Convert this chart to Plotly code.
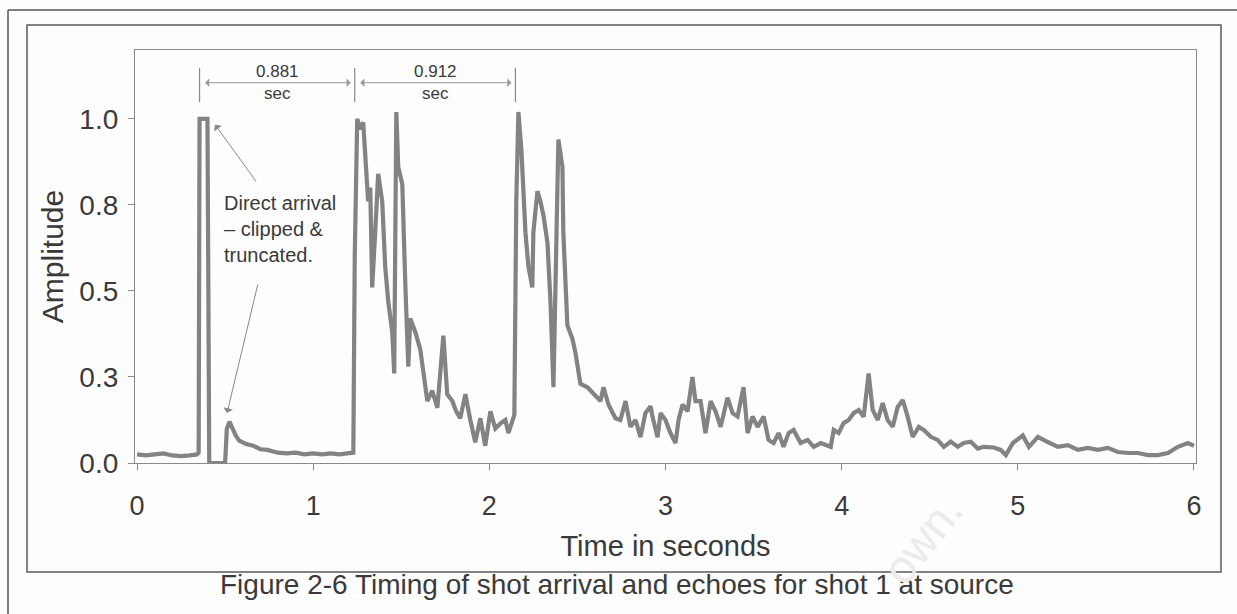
import plotly.graph_objects as go

# ---------------- data ----------------
time_s = [
    0.00, 0.05, 0.10, 0.15, 0.20, 0.25, 0.30, 0.34, 0.350, 0.355, 0.400, 0.410,
    0.500, 0.510, 0.525, 0.540, 0.560, 0.580, 0.620, 0.660, 0.700, 0.740, 0.800,
    0.850, 0.900, 0.950, 1.000, 1.050, 1.100, 1.150, 1.200, 1.228,
    1.236, 1.245, 1.250, 1.267, 1.284, 1.295, 1.312, 1.324, 1.335, 1.352, 1.369,
    1.392, 1.409, 1.426, 1.449, 1.460, 1.472, 1.483, 1.506, 1.523, 1.540, 1.551,
    1.580, 1.608, 1.648, 1.676, 1.705, 1.739, 1.761, 1.790, 1.812, 1.835, 1.864,
    1.892, 1.920, 1.949, 1.977, 2.006, 2.034, 2.063, 2.091, 2.108, 2.131, 2.142,
    2.153, 2.165, 2.182, 2.193, 2.205, 2.222, 2.244, 2.250, 2.273, 2.290, 2.307,
    2.330, 2.347, 2.364, 2.381, 2.392, 2.415, 2.420, 2.443, 2.472, 2.489, 2.517,
    2.557, 2.591, 2.631, 2.648, 2.676, 2.716, 2.744, 2.773, 2.801, 2.830, 2.858,
    2.886, 2.915, 2.926, 2.955, 2.972, 3.000, 3.028, 3.057, 3.074, 3.097, 3.125,
    3.153, 3.170, 3.199, 3.227, 3.256, 3.284, 3.313, 3.352, 3.381, 3.409, 3.443,
    3.466, 3.494, 3.523, 3.557, 3.585, 3.614, 3.642, 3.670, 3.699, 3.727, 3.767,
    3.807, 3.841, 3.881, 3.938, 3.955, 3.983, 4.011, 4.040, 4.068, 4.097, 4.125,
    4.153, 4.176, 4.205, 4.233, 4.261, 4.290, 4.318, 4.347, 4.375, 4.403, 4.438,
    4.466, 4.506, 4.545, 4.580, 4.619, 4.659, 4.693, 4.733, 4.773, 4.807, 4.864,
    4.903, 4.932, 4.972, 5.028, 5.063, 5.114, 5.170, 5.227, 5.284, 5.341, 5.398,
    5.455, 5.511, 5.568, 5.625, 5.682, 5.739, 5.795, 5.852, 5.909, 5.966, 6.000,
]
amplitude = [
    0.025, 0.022, 0.025, 0.028, 0.022, 0.020, 0.022, 0.025, 0.030, 1.000, 1.000, 0.000,
    0.000, 0.100, 0.120, 0.100, 0.080, 0.065, 0.055, 0.050, 0.040, 0.038, 0.030,
    0.028, 0.030, 0.025, 0.028, 0.025, 0.028, 0.025, 0.028, 0.030,
    0.600, 0.950, 1.000, 0.970, 0.990, 0.900, 0.760, 0.800, 0.510, 0.670, 0.840,
    0.760, 0.570, 0.470, 0.380, 0.260, 1.020, 0.860, 0.810, 0.520, 0.280, 0.420,
    0.380, 0.330, 0.180, 0.210, 0.160, 0.370, 0.200, 0.180, 0.150, 0.130, 0.200,
    0.125, 0.060, 0.130, 0.050, 0.150, 0.100, 0.115, 0.125, 0.087, 0.125, 0.140,
    0.760, 1.020, 0.910, 0.760, 0.670, 0.570, 0.510, 0.670, 0.790, 0.760, 0.720,
    0.640, 0.470, 0.220, 0.600, 0.940, 0.860, 0.670, 0.400, 0.360, 0.320, 0.230,
    0.220, 0.200, 0.180, 0.220, 0.170, 0.130, 0.125, 0.180, 0.105, 0.125, 0.075,
    0.145, 0.165, 0.135, 0.075, 0.145, 0.125, 0.087, 0.058, 0.125, 0.170, 0.150,
    0.250, 0.180, 0.180, 0.087, 0.180, 0.150, 0.105, 0.190, 0.145, 0.135, 0.220,
    0.087, 0.135, 0.105, 0.135, 0.067, 0.058, 0.087, 0.047, 0.087, 0.096, 0.058,
    0.067, 0.047, 0.058, 0.047, 0.096, 0.087, 0.116, 0.125, 0.145, 0.154, 0.134,
    0.260, 0.154, 0.125, 0.174, 0.125, 0.105, 0.163, 0.183, 0.134, 0.076, 0.105,
    0.096, 0.076, 0.067, 0.047, 0.062, 0.047, 0.058, 0.062, 0.042, 0.047, 0.045,
    0.038, 0.023, 0.058, 0.080, 0.047, 0.076, 0.061, 0.047, 0.052, 0.038, 0.044,
    0.038, 0.044, 0.032, 0.029, 0.029, 0.023, 0.023, 0.029, 0.047, 0.058, 0.050,
]

x_ticks = [0, 1, 2, 3, 4, 5, 6]
y_ticks = [0.0, 0.25, 0.5, 0.75, 1.0]
y_tick_labels = ["0.0", "0.3", "0.5", "0.8", "1.0"]

arrival_marks = [0.355, 1.236, 2.148]        # shot arrival and echo onsets (s)
interval_labels = ["0.881<br>sec", "0.912<br>sec"]

# ---------------- figure ----------------
FONT = "Liberation Sans, Arial, sans-serif"
TXT = "#3a3a3a"
AX = "#8a8a8a"

fig = go.Figure()
fig.add_trace(go.Scatter(
    x=time_s, y=amplitude, mode="lines",
    line=dict(color="#838383", width=4.2),
    hoverinfo="skip", showlegend=False,
))

L, R, T, B = 135, 1196, 50, 463
W, H = 1237, 614
def px(xp):
    return (xp - L) / (R - L)
def py(yp):
    return (B - yp) / (B - T)

shapes = []
# outer scanned frame (left + top) and inner figure box
shapes.append(dict(type="line", xref="paper", yref="paper", x0=px(8), x1=px(8),
                   y0=py(10), y1=py(640), line=dict(color="#555", width=1.5)))
shapes.append(dict(type="line", xref="paper", yref="paper", x0=px(8), x1=px(1260),
                   y0=py(10), y1=py(10), line=dict(color="#555", width=1.5)))
shapes.append(dict(type="rect", xref="paper", yref="paper", x0=px(27), x1=px(1221),
                   y0=py(572), y1=py(25), line=dict(color="#5a5a5a", width=1.5)))

# dimension markers
y_dim_top, y_dim_bot, y_dim = 1.148, 1.049, 1.105
for t in arrival_marks:
    shapes.append(dict(type="line", xref="x", yref="y", x0=t, x1=t,
                       y0=y_dim_bot, y1=y_dim_top, line=dict(color="#888", width=1.2)))

annotations = []
for i in range(len(arrival_marks) - 1):
    a, b = arrival_marks[i], arrival_marks[i + 1]
    annotations.append(dict(
        x=b, y=y_dim, ax=a, ay=y_dim, xref="x", yref="y", axref="x", ayref="y",
        text="", showarrow=True, arrowside="end+start", arrowhead=1, startarrowhead=1,
        arrowsize=1.4, startarrowsize=1.4, arrowwidth=1, arrowcolor="#999",
        standoff=4, startstandoff=4,
    ))
    annotations.append(dict(
        x=(a + b) / 2, y=y_dim, xref="x", yref="y", text=interval_labels[i],
        showarrow=False, font=dict(family=FONT, size=17, color=TXT),
        align="center", yanchor="middle",
    ))

# "Direct arrival" note with two arrows
annotations.append(dict(
    x=0.48, y=0.68, xref="x", yref="y", xanchor="left", yanchor="middle",
    text="Direct arrival<br>– clipped &amp;<br>truncated.", showarrow=False, align="left",
    font=dict(family=FONT, size=20, color=TXT),
))
annotations.append(dict(
    x=0.443, y=0.983, ax=0.682, ay=0.814, xref="x", yref="y", axref="x", ayref="y",
    text="", showarrow=True, arrowhead=1, arrowsize=1.6, arrowwidth=1, arrowcolor="#888",
))
annotations.append(dict(
    x=0.511, y=0.145, ax=0.6875, ay=0.523, xref="x", yref="y", axref="x", ayref="y",
    text="", showarrow=True, arrowhead=1, arrowsize=1.6, arrowwidth=1, arrowcolor="#888",
))

# caption
annotations.append(dict(
    x=px(617), y=py(584), xref="paper", yref="paper", showarrow=False,
    text="Figure 2-6 Timing of shot arrival and echoes for shot 1 at source",
    font=dict(family=FONT, size=28, color=TXT), xanchor="center", yanchor="middle",
))
# faint scan watermark
annotations.append(dict(
    x=px(922), y=py(540), xref="paper", yref="paper", showarrow=False, text="own.",
    xanchor="center", yanchor="middle",
    textangle=-52, font=dict(family=FONT, size=46, color="#ebebeb"),
))

fig.update_layout(
    width=W, height=H,
    margin=dict(l=L, r=W - R, t=T, b=H - B, pad=0),
    paper_bgcolor="#fdfdfd", plot_bgcolor="#fdfdfd",
    font=dict(family=FONT, color=TXT),
    shapes=shapes, annotations=annotations,
    showlegend=False,
)
fig.update_xaxes(
    range=[-0.0114, 6.0114], tickvals=x_ticks, ticktext=[str(v) for v in x_ticks],
    showline=True, linecolor=AX, linewidth=1.2, mirror=True,
    ticks="outside", ticklen=6, tickcolor=AX, showgrid=False, zeroline=False,
    tickfont=dict(family=FONT, size=27, color=TXT), ticklabelstandoff=12,
    title=dict(text="Time in seconds", font=dict(family=FONT, size=29, color=TXT), standoff=16),
)
fig.update_yaxes(
    range=[0, 1.2], tickvals=y_ticks, ticktext=y_tick_labels,
    showline=True, linecolor=AX, linewidth=1.2, mirror=True,
    ticks="outside", ticklen=6, tickcolor=AX, showgrid=False, zeroline=False,
    tickfont=dict(family=FONT, size=28, color=TXT), ticklabelstandoff=4,
    title=dict(text="Amplitude", font=dict(family=FONT, size=30, color=TXT), standoff=6),
)

fig.write_html("out.html")
